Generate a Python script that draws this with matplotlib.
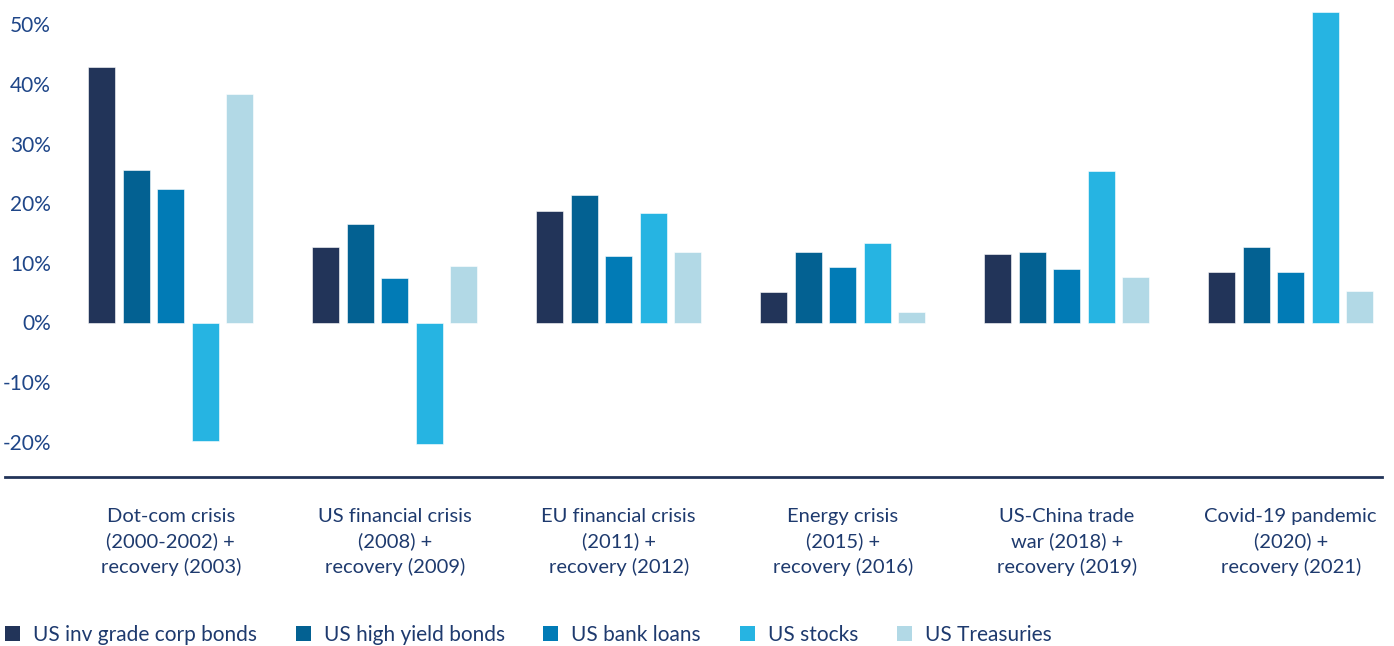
import matplotlib
matplotlib.use("Agg")
import matplotlib.pyplot as plt
from matplotlib.patches import Patch
import numpy as np

categories = [
    "Dot-com crisis\n(2000-2002) +\nrecovery (2003)",
    "US financial crisis\n(2008) +\nrecovery (2009)",
    "EU financial crisis\n(2011) +\nrecovery (2012)",
    "Energy crisis\n(2015) +\nrecovery (2016)",
    "US-China trade\nwar (2018) +\nrecovery (2019)",
    "Covid-19 pandemic\n(2020) +\nrecovery (2021)",
]
series_names = ["US inv grade corp bonds", "US high yield bonds", "US bank loans",
                "US stocks", "US Treasuries"]
inv_grade = [42.8, 12.6, 18.7, 5.2, 11.5, 8.5]
high_yield = [25.6, 16.6, 21.4, 11.8, 11.8, 12.7]
bank_loans = [22.4, 7.4, 11.2, 9.3, 9.0, 8.4]
stocks = [-19.8, -20.4, 18.4, 13.3, 25.5, 52.1]
treasuries = [38.3, 9.5, 11.8, 1.7, 7.6, 5.3]
yticks = [-20, -10, 0, 10, 20, 30, 40, 50]
ytick_labels = ["-20%", "-10%", "0%", "10%", "20%", "30%", "40%", "50%"]

series = [inv_grade, high_yield, bank_loans, stocks, treasuries]
colors = ["#223459", "#036192", "#017bb6", "#26b4e2", "#b2d9e6"]
text_color = "#1e3a6e"

plt.rcParams['font.family'] = ['Lato', 'DejaVu Sans']

W, H = 1394, 646
fig = plt.figure(figsize=(W / 100, H / 100), dpi=100)
left_px, right_px, top_px, bottom_px = 5, 1382, 5, 477
ax = fig.add_axes([left_px / W, 1 - bottom_px / H,
                   (right_px - left_px) / W, (bottom_px - top_px) / H])

x = np.arange(len(categories))
pitch = 0.154
width = 0.1205
for i, (vals, c, name) in enumerate(zip(series, colors, series_names)):
    ax.bar(x + (i - 2) * pitch, vals, width=width, color=c, label=name,
           edgecolor="white", linewidth=0.4)

ax.set_xlim((left_px - 170.7) / 224, (right_px - 170.7) / 224)
ax.set_ylim((322.5 - bottom_px) / 5.96, (322.5 - top_px) / 5.96)

for s in ["top", "right", "left"]:
    ax.spines[s].set_visible(False)
ax.spines["bottom"].set_color("#223459")
ax.spines["bottom"].set_linewidth(2)

ax.set_yticks(yticks)
ax.set_yticklabels(ytick_labels, fontsize=15, color="#1f4688")
ax.tick_params(axis="y", length=0, pad=-33)
for lab in ax.get_yticklabels():
    lab.set_horizontalalignment("right")

ax.set_xticks(x)
ax.set_xticklabels(categories, fontsize=14.5, color=text_color, linespacing=1.5)
ax.tick_params(axis="x", length=0, pad=22)

handles = [Patch(facecolor=c, edgecolor="none") for c in colors]
fig.legend(handles, series_names, loc="center left",
           bbox_to_anchor=(5 / W, 1 - 635 / H), ncol=5, frameon=False,
           fontsize=15, handlelength=0.72, handleheight=0.72,
           handletextpad=0.62, columnspacing=1.86, borderpad=0,
           borderaxespad=0, labelcolor=text_color)

fig.savefig("out.png", dpi=100)
